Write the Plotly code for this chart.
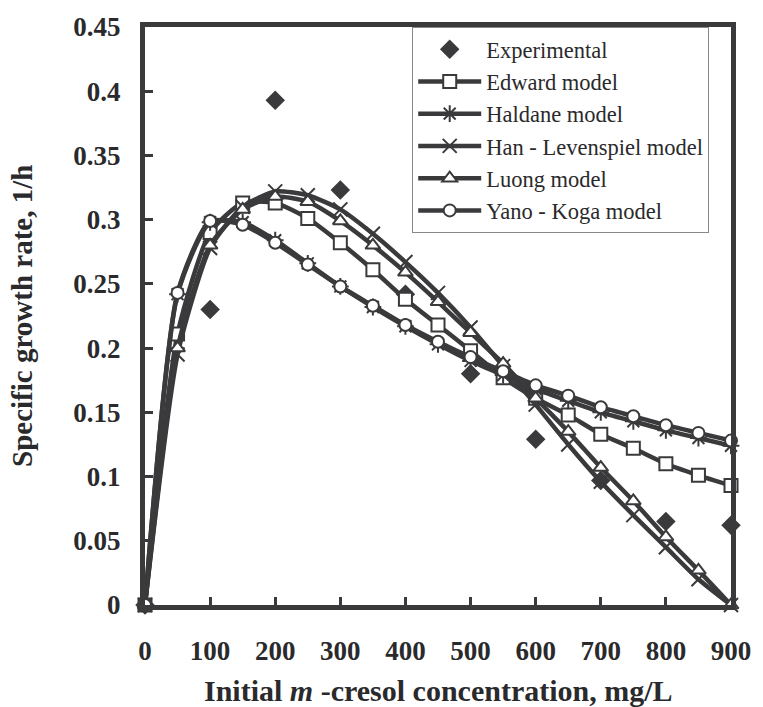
import plotly.graph_objects as go

conc_exp = [0, 100, 200, 300, 400, 500, 600, 700, 800, 900]
mu_exp = [0.0, 0.230, 0.393, 0.323, 0.242, 0.180, 0.129, 0.097, 0.065, 0.062]

conc_model = [0, 50, 100, 150, 200, 250, 300, 350, 400, 450, 500,
              550, 600, 650, 700, 750, 800, 850, 900]
edward = [0, 0.211, 0.290, 0.313, 0.313, 0.301, 0.282, 0.261, 0.238, 0.218, 0.198,
          0.177, 0.161, 0.148, 0.133, 0.122, 0.110, 0.101, 0.093]
haldane = [0, 0.242, 0.298, 0.298, 0.284, 0.266, 0.248, 0.232, 0.217, 0.203, 0.190,
           0.179, 0.168, 0.159, 0.150, 0.143, 0.136, 0.130, 0.124]
han_lev = [0, 0.195, 0.278, 0.310, 0.322, 0.319, 0.308, 0.289, 0.267, 0.243, 0.216,
           0.186, 0.156, 0.125, 0.096, 0.070, 0.045, 0.020, 0.0]
luong = [0, 0.200, 0.280, 0.308, 0.318, 0.314, 0.299, 0.280, 0.259, 0.236, 0.212,
         0.188, 0.161, 0.135, 0.107, 0.081, 0.053, 0.027, 0.0]
yano_koga = [0, 0.243, 0.299, 0.296, 0.282, 0.265, 0.248, 0.233, 0.218, 0.205, 0.193,
             0.182, 0.171, 0.163, 0.154, 0.147, 0.140, 0.134, 0.128]

x_ticks = [0, 100, 200, 300, 400, 500, 600, 700, 800, 900]
y_ticks = [0, 0.05, 0.1, 0.15, 0.2, 0.25, 0.3, 0.35, 0.4, 0.45]
y_tick_text = ["0", "0.05", "0.1", "0.15", "0.2", "0.25", "0.3", "0.35", "0.4", "0.45"]

INK = "#3a3a3c"
TXT = "#2a2a2c"
SERIF = "Liberation Serif, Times New Roman, serif"

fig = go.Figure()
fig.add_trace(go.Scatter(
    x=conc_exp, y=mu_exp, mode="markers", name="Experimental",
    marker=dict(symbol="diamond", size=15, color=INK),
    cliponaxis=False, legendgroup="a"))

# (name, values, symbol, size, fill colour)
models = [
    ("Edward model", edward, "square", 13, "white"),
    ("Haldane model", haldane, "asterisk-open", 14, INK),
    ("Han - Levenspiel model", han_lev, "x-thin-open", 14, INK),
    ("Luong model", luong, "triangle-up", 13, "white"),
    ("Yano - Koga model", yano_koga, "circle", 12, "white"),
]
for name, vals, sym, sz, fill in models:
    fig.add_trace(go.Scatter(
        x=conc_model, y=vals, mode="lines+markers", name=name,
        line=dict(color=INK, width=4.5, shape="spline", smoothing=0.6),
        marker=dict(symbol=sym, size=sz, color=fill,
                    line=dict(color=INK, width=2)),
        cliponaxis=False, legendgroup=name))

axis_common = dict(
    showline=True, linecolor=INK, linewidth=5, mirror=True,
    ticks="inside", ticklen=8, tickwidth=3, tickcolor=INK,
    showgrid=False, zeroline=False,
    tickfont=dict(family=SERIF, size=27, color=TXT, weight="bold"),
)

fig.update_xaxes(range=[0, 900], tickvals=x_ticks, ticktext=[str(v) for v in x_ticks],
                 ticklabelstandoff=18, **axis_common)
fig.update_yaxes(range=[0, 0.45], tickvals=y_ticks, ticktext=y_tick_text,
                 ticklabelstandoff=14, **axis_common)

fig.add_annotation(text="<b>Initial <i>m</i> -cresol concentration, mg/L</b>",
                   xref="paper", yref="paper", x=0.5, y=-0.148, yanchor="middle",
                   showarrow=False, font=dict(family=SERIF, size=30, color=TXT))
fig.add_annotation(text="<b>Specific growth rate, 1/h</b>",
                   xref="paper", yref="paper", x=-0.21, y=0.5, textangle=-90,
                   xanchor="center", yanchor="middle",
                   showarrow=False, font=dict(family=SERIF, size=29, color=TXT))

fig.update_layout(
    width=763, height=707,
    margin=dict(l=145, r=26, t=21, b=102),
    paper_bgcolor="white", plot_bgcolor="white",
    showlegend=True,
    legend=dict(x=0.456, y=1.0, xanchor="left", yanchor="top",
                bgcolor="white", bordercolor="#888888", borderwidth=1,
                font=dict(family=SERIF, size=22.5, color=TXT),
                tracegroupgap=0, traceorder="grouped", itemwidth=63),
)

fig.write_html("out.html")
